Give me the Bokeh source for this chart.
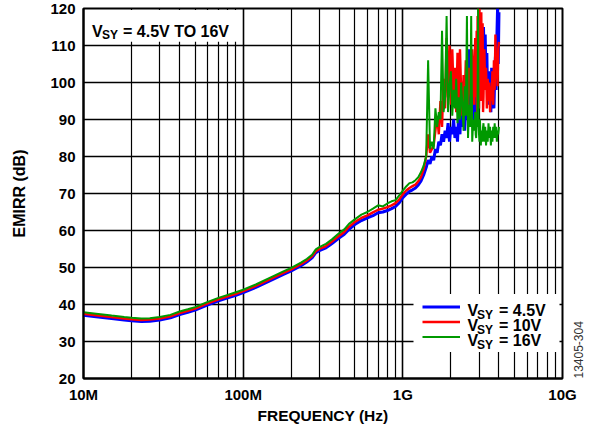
import math
from bokeh.plotting import figure
from bokeh.models import (FixedTicker, BoxAnnotation, Label, Legend, LegendItem, Range1d,
                          LinearAxis)
from bokeh.embed import file_html
from bokeh.resources import INLINE

# ---------------- data ----------------
freq_low_mhz = [10, 12, 15, 18, 20, 23, 26, 30, 35, 40, 45, 50, 60, 70, 80, 90, 100, 120,
                150, 180, 200, 230, 250, 270, 285, 300, 330, 360, 400, 430, 460, 500, 550,
                600, 650, 700, 750, 800, 850, 900, 950, 1000, 1050, 1100, 1150, 1200, 1250,
                1300, 1350]
red_low = [37.5, 37.1, 36.6, 36.2, 36.0, 35.8, 35.9, 36.2, 36.8, 37.7, 38.3, 38.9, 40.3,
           41.4, 42.2, 42.9, 43.6, 45.0, 47.0, 48.6, 49.5, 50.9, 51.9, 53.0, 54.4, 55.0,
           55.8, 57.0, 58.6, 59.6, 61.0, 62.3, 63.4, 64.1, 64.9, 65.6, 65.9, 66.3, 66.8,
           67.4, 68.4, 69.8, 70.8, 71.5, 72.0, 72.4, 73.3, 74.5, 76.5]
blue_low = [37.1, 36.7, 36.2, 35.8, 35.6, 35.4, 35.5, 35.8, 36.4, 37.3, 37.9, 38.5, 39.9,
            41.0, 41.8, 42.5, 43.2, 44.6, 46.6, 48.2, 49.1, 50.5, 51.5, 52.6, 54.0, 54.6,
            55.3, 56.5, 58.0, 59.0, 60.3, 61.6, 62.7, 63.4, 64.0, 64.8, 65.0, 65.4, 65.9,
            66.5, 67.5, 68.9, 69.8, 70.6, 71.0, 71.5, 72.3, 73.4, 75.0]
green_low = [37.9, 37.5, 37.0, 36.6, 36.4, 36.2, 36.3, 36.6, 37.2, 38.1, 38.7, 39.3, 40.7,
             41.8, 42.6, 43.3, 44.0, 45.4, 47.4, 49.0, 49.9, 51.3, 52.3, 53.4, 54.9, 55.5,
             56.4, 57.6, 59.3, 60.3, 61.8, 63.0, 64.3, 65.0, 65.9, 66.8, 66.5, 67.3, 67.9,
             68.2, 69.5, 70.8, 71.9, 72.8, 73.0, 73.6, 74.4, 75.8, 77.5]

freq_high_ghz = [1.40, 1.44, 1.48, 1.52, 1.56, 1.60, 1.64, 1.68, 1.72, 1.76, 1.80, 1.84,
                 1.88, 1.92, 1.96, 2.00, 2.04, 2.08, 2.12, 2.16, 2.20, 2.24, 2.28, 2.32,
                 2.36, 2.40, 2.44, 2.48, 2.52, 2.56, 2.60, 2.64, 2.68, 2.72, 2.76, 2.80,
                 2.82, 2.84, 2.86, 2.88, 2.90, 2.92, 2.94, 2.96, 2.98, 3.00, 3.02, 3.04,
                 3.06, 3.08, 3.10, 3.12, 3.14, 3.16, 3.18, 3.20, 3.24, 3.28,
                 3.32, 3.36, 3.40, 3.44, 3.48, 3.52, 3.56, 3.60, 3.64, 3.68, 3.72, 3.76,
                 3.80, 3.84, 3.88, 3.92, 3.96, 4.00]
blue_high = [77, 79, 78, 80, 79, 82, 81, 84, 83, 86, 84, 87, 85, 89, 84, 88, 86, 90, 85, 88,
             84, 92, 86, 95, 88, 93, 87, 94, 90, 100, 109, 95, 91, 98, 90, 96,
             91, 89, 97, 102, 94, 93, 100, 105, 98, 97, 104, 110, 101, 99, 108, 114, 106,
             102, 110, 115, 105, 113, 99, 108, 94, 103, 96, 101, 92, 104,
             95, 99, 93, 101, 107, 98, 112, 120, 105, 119]
red_high = [80, 86, 81, 82, 83, 87, 91, 86, 95, 88, 101, 93, 112, 96, 110, 94, 109, 97, 104,
            92, 108, 95, 109, 97, 91, 102, 95, 106, 97, 92, 104, 99, 96, 109, 100, 94,
            105, 112, 96, 99, 114, 91, 118, 100, 120, 93, 120, 102, 117, 95, 119, 104, 113,
            116, 92, 96, 109, 98, 104, 93, 101, 95, 100, 92,
            99, 95, 103, 94, 106, 98, 113, 101, 107, 99, 109, 111]
green_high = [80, 106, 82, 84, 82, 93, 88, 92, 90, 114, 92, 96, 118, 92, 99, 103, 91, 98,
              93, 101, 89, 96, 90, 100, 94, 87, 99, 91, 118, 85, 94, 88, 118, 84, 90, 87,
              90, 92, 86, 85, 89, 88, 95, 120, 90, 86, 84, 90, 87, 83, 86, 87, 84, 85,
              88, 89, 84, 88, 83, 87, 84, 89, 85, 88, 83,
              87, 84, 88, 85, 89, 85, 88, 84, 87, 86, 88]

x_major = [1e7, 1e8, 1e9, 1e10]
x_major_labels = ["10M", "100M", "1G", "10G"]
y_ticks = [20, 30, 40, 50, 60, 70, 80, 90, 100, 110, 120]

series_names = ["4.5V", "10V", "16V"]
series_colors = ["#0000FF", "#FF0000", "#009900"]
series_widths = [3.0, 2.4, 2.0]

figure_id = "13405-304"

freq_hz = [f * 1e6 for f in freq_low_mhz] + [f * 1e9 for f in freq_high_ghz]
series_values = [blue_low + blue_high, red_low + red_high, green_low + green_high]

# ---------------- geometry ----------------
W, H = 593, 426
FL, FR, FT = 83, 562, 8
BOTTOM = 47
FRAME_H = H - FT - BOTTOM

# reference picture positions (inside its frame 83..562 x 13..390) -> data space
def x_of(px):
    return 10 ** (7 + 3.0 * (px - 83) / (562 - 83))

def y_of(py):
    return 120 - 100.0 * (py - 13) / (390 - 13)

FONT = "Liberation Sans"

p = figure(width=W, height=H, x_axis_type="log",
           x_range=Range1d(1e7, 1e10), y_range=Range1d(20, 120),
           output_backend="svg", toolbar_location=None,
           min_border_left=FL, min_border_right=W - FR, min_border_top=FT,
           min_border_bottom=BOTTOM)

p.background_fill_color = "white"
p.border_fill_color = "white"
p.outline_line_color = "black"
p.outline_line_width = 2

minor = []
for d in [1e7, 1e8, 1e9]:
    for m in range(2, 10):
        minor.append(d * m)
xt = FixedTicker(ticks=x_major, minor_ticks=minor)
yt = FixedTicker(ticks=y_ticks)
p.xaxis.ticker = xt
p.yaxis.ticker = yt
p.xgrid.ticker = xt
p.ygrid.ticker = yt
p.xaxis.major_label_overrides = {t: lab for t, lab in zip(x_major, x_major_labels)}

p.xgrid.grid_line_color = "black"
p.xgrid.grid_line_width = 1.6
p.xgrid.minor_grid_line_color = "black"
p.xgrid.minor_grid_line_width = 1.2
p.ygrid.grid_line_color = "black"
p.ygrid.grid_line_width = 1.3

for ax in (p.xaxis[0], p.yaxis[0]):
    ax.axis_line_width = 2
    ax.axis_line_color = "black"
    ax.major_tick_out = 0
    ax.major_tick_in = 0
    ax.minor_tick_out = 0
    ax.minor_tick_in = 0
    ax.major_label_text_font = FONT
    ax.major_label_text_font_style = "bold"
    ax.major_label_text_font_size = "15px"
    ax.major_label_text_color = "black"
    ax.axis_label_text_font = FONT
    ax.axis_label_text_font_style = "bold"
    ax.axis_label_text_color = "black"

p.xaxis.axis_label = "FREQUENCY (Hz)"
p.xaxis.axis_label_text_font_size = "15.5px"
p.xaxis.major_label_standoff = 7
p.xaxis.axis_label_standoff = 1
p.yaxis.axis_label = "EMIRR (dB)"
p.yaxis.axis_label_text_font_size = "16px"
p.yaxis.major_label_standoff = 8
p.yaxis.axis_label_standoff = 19

# right-hand axis only used to carry the figure id text near the bottom edge
rax = LinearAxis(ticker=FixedTicker(ticks=[20]), major_label_overrides={20: figure_id},
                 major_label_orientation=math.pi / 2, major_label_standoff=16,
                 axis_line_color=None, major_tick_out=0, major_tick_in=0,
                 minor_tick_out=0, minor_tick_in=0,
                 major_label_text_font=FONT, major_label_text_font_size="12px",
                 major_label_text_color="#333333", major_label_text_font_style="normal")
p.add_layout(rax, "right")

# data lines
renderers = []
for vals, col, w in zip(series_values, series_colors, series_widths):
    renderers.append(p.line(freq_hz, vals, line_color=col, line_width=w))

# white boxes (title box and legend box)
p.add_layout(BoxAnnotation(left=x_of(84.5), right=x_of(240), bottom=y_of(47), top=y_of(14.5),
                           fill_color="white", fill_alpha=1.0, line_alpha=0))
p.add_layout(BoxAnnotation(left=x_of(413), right=x_of(559), bottom=y_of(363), top=y_of(304),
                           fill_color="white", fill_alpha=1.0, line_alpha=0))

# legend swatches (text drawn separately because of the subscripts)
leg_bottom = (390 - 355.0) / 377.0 * FRAME_H
legend = Legend(items=[LegendItem(label=" ", renderers=[r]) for r in renderers],
                location=(round(421.7 - FL), round(leg_bottom)), orientation="vertical",
                background_fill_alpha=0, border_line_alpha=0,
                glyph_width=38, glyph_height=15, label_height=15, label_width=1,
                spacing=0, padding=0, margin=0, label_standoff=0,
                label_text_font_size="8px")
p.add_layout(legend)

def vsy(x_v, base_py, rest, x_sub, x_rest, main_size="16px", sub_size="12px"):
    p.add_layout(Label(x=x_of(x_v), y=y_of(base_py), text="V", text_font=FONT,
                       text_font_style="bold", text_font_size=main_size,
                       text_baseline="alphabetic", text_align="left", text_color="black"))
    p.add_layout(Label(x=x_of(x_sub), y=y_of(base_py + 4.2), text="SY", text_font=FONT,
                       text_font_style="bold", text_font_size=sub_size,
                       text_baseline="alphabetic", text_align="left", text_color="black"))
    p.add_layout(Label(x=x_of(x_rest), y=y_of(base_py), text=rest, text_font=FONT,
                       text_font_style="bold", text_font_size=main_size,
                       text_baseline="alphabetic", text_align="left", text_color="black"))

# title box text
vsy(91.5, 36.0, "= 4.5V TO 16V", x_sub=101.5, x_rest=122.5)

# legend texts
legend_rows = [(320.7, "= " + series_names[0]), (336.3, "= " + series_names[1]),
               (351.5, "= " + series_names[2])]
for base, txt in legend_rows:
    vsy(467.0, base, txt, x_sub=476.5, x_rest=498.5)

open("out.html", "w").write(file_html(p, INLINE))
